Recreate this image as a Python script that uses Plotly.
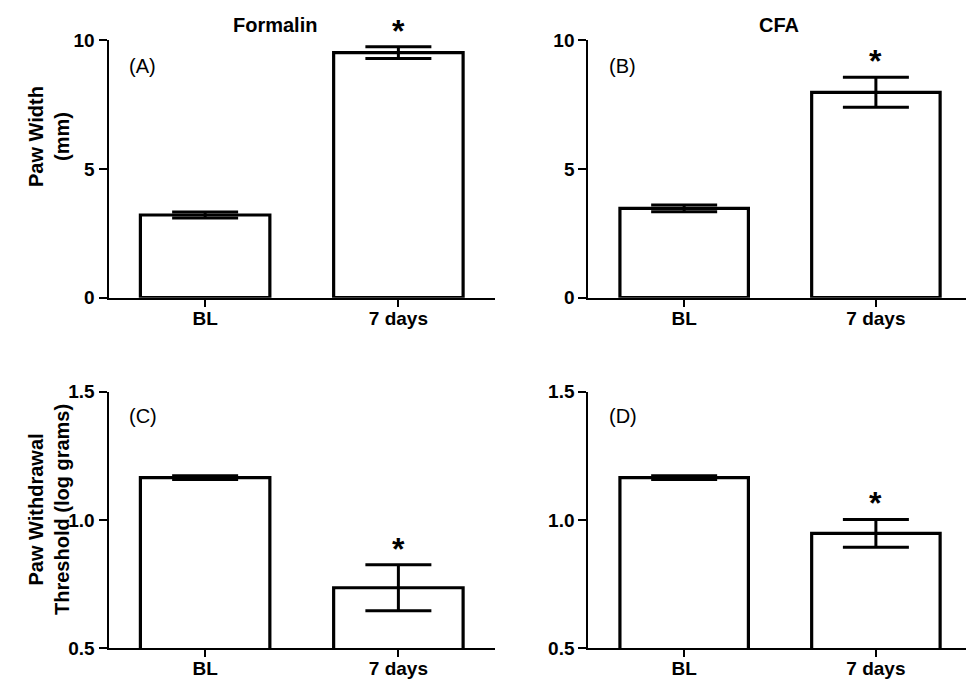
import plotly.graph_objects as go

# ---- data ----
categories = ["BL", "7 days"]
paw_width_formalin = [3.21, 9.51]
paw_width_formalin_err = [0.12, 0.23]
paw_width_cfa = [3.47, 7.97]
paw_width_cfa_err = [0.13, 0.58]
pwt_formalin = [1.165, 0.736]
pwt_formalin_err = [0.007, 0.09]
pwt_cfa = [1.165, 0.948]
pwt_cfa_err = [0.007, 0.054]
significant = [False, True]
panel_labels = ["(A)", "(B)", "(C)", "(D)"]
column_titles = ["Formalin", "CFA"]
row_titles = ["Paw Width<br>(mm)", "Paw Withdrawal<br>Threshold (log grams)"]
top_ticks = [0, 5, 10]
bottom_ticks = [0.5, 1.0, 1.5]
bottom_tick_text = ["0.5", "1.0", "1.5"]

W, H = 966, 680
FONT = "Liberation Sans, Arial, sans-serif"

panels = [
    (paw_width_formalin, paw_width_formalin_err, "x", "y"),
    (paw_width_cfa, paw_width_cfa_err, "x2", "y2"),
    (pwt_formalin, pwt_formalin_err, "x3", "y3"),
    (pwt_cfa, pwt_cfa_err, "x4", "y4"),
]

fig = go.Figure()
annotations = []
for i, (vals, errs, xa, ya) in enumerate(panels):
    fig.add_trace(go.Bar(
        x=categories, y=vals, xaxis=xa, yaxis=ya, width=0.67,
        marker=dict(color="white", line=dict(color="black", width=3.2)),
        error_y=dict(type="data", array=errs, visible=True, color="black",
                     thickness=3, width=33),
        showlegend=False, hoverinfo="skip",
    ))
    for c, v, e, s in zip(categories, vals, errs, significant):
        if s:
            annotations.append(dict(
                x=c, y=v + e, xref=xa, yref=ya, text="*", showarrow=False,
                xanchor="center", yanchor="bottom", yshift=-4,
                font=dict(family=FONT, size=32, color="black", weight="bold"),
            ))

# pixel geometry -> paper domains
def px_x(p):
    return p / W

def px_y(p):
    return 1 - p / H

xdom_left = [px_x(108.5), px_x(495)]
xdom_right = [px_x(588.3), 1.0]
ydom_top = [px_y(297.7), px_y(40)]
ydom_bot = [px_y(648.3), px_y(391.7)]

tickfont = dict(family=FONT, size=19, color="black", weight="bold")
xcommon = dict(showline=True, linecolor="black", linewidth=2, ticks="outside",
               ticklen=7, tickwidth=2, tickcolor="black", tickfont=tickfont,
               ticklabelstandoff=-5,
               showgrid=False, zeroline=False, fixedrange=True, automargin=False)
ycommon = dict(showline=True, linecolor="black", linewidth=2, ticks="outside",
               ticklen=8, tickwidth=2, tickcolor="black", tickfont=tickfont,
               showgrid=False, zeroline=False, fixedrange=True, automargin=False)

fig.update_layout(
    template="none",
    width=W, height=H, margin=dict(l=0, r=0, t=0, b=0, pad=0, autoexpand=False),
    paper_bgcolor="white", plot_bgcolor="white",
    xaxis=dict(domain=xdom_left, anchor="y", range=[-0.5, 1.5], **xcommon),
    xaxis2=dict(domain=xdom_right, anchor="y2", range=[-0.5, 1.47], **xcommon),
    xaxis3=dict(domain=xdom_left, anchor="y3", range=[-0.5, 1.5], **xcommon),
    xaxis4=dict(domain=xdom_right, anchor="y4", range=[-0.5, 1.47], **xcommon),
    yaxis=dict(domain=ydom_top, anchor="x", range=[0, 10], tickvals=top_ticks, **ycommon),
    yaxis2=dict(domain=ydom_top, anchor="x2", range=[0, 10], tickvals=top_ticks, **ycommon),
    yaxis3=dict(domain=ydom_bot, anchor="x3", range=[0.5, 1.5], tickvals=bottom_ticks,
                ticktext=bottom_tick_text, **ycommon),
    yaxis4=dict(domain=ydom_bot, anchor="x4", range=[0.5, 1.5], tickvals=bottom_ticks,
                ticktext=bottom_tick_text, **ycommon),
    bargap=0.33,
)

titlefont = dict(family=FONT, size=20, color="black", weight="bold")
labelfont = dict(family=FONT, size=20, color="black")

# column titles
for txt, cx in zip(column_titles, [275, 779]):
    annotations.append(dict(x=px_x(cx), y=px_y(25), xref="paper", yref="paper",
                            text=txt, showarrow=False, font=titlefont,
                            xanchor="center", yanchor="middle"))
# row titles
for txt, cy in zip(row_titles, [137, 510]):
    annotations.append(dict(x=px_x(49), y=px_y(cy), xref="paper", yref="paper",
                            text=txt, showarrow=False, font=titlefont, textangle=-90,
                            xanchor="center", yanchor="middle"))
# panel labels
for txt, (cx, cy) in zip(panel_labels, [(142.7, 65.7), (622.7, 65.7), (142.7, 416), (622.7, 416)]):
    annotations.append(dict(x=px_x(cx), y=px_y(cy), xref="paper", yref="paper",
                            text=txt, showarrow=False, font=labelfont,
                            xanchor="center", yanchor="middle"))

fig.update_layout(annotations=annotations)
fig.write_html("out.html", config={"displayModeBar": False},
               post_script="document.body.style.margin='0';document.body.style.overflow='hidden';")
